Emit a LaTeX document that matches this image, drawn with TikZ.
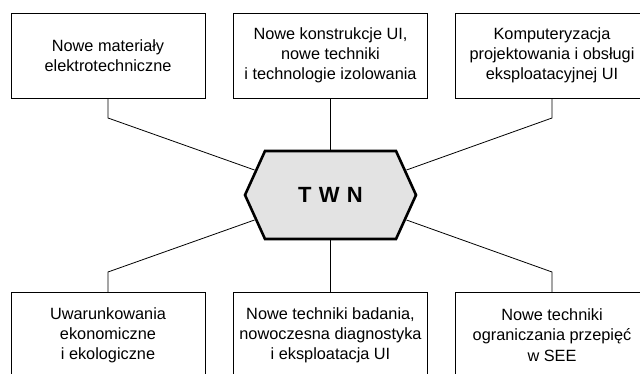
\documentclass[tikz,border=0pt]{standalone}
\usepackage{fontspec}
\setmainfont{Liberation Sans}
\begin{document}
\begin{tikzpicture}[x=1pt,y=-1pt,
  box/.style={draw,line width=0.8pt,inner sep=0pt,align=center,
    minimum width=194pt,minimum height=85pt,
    font=\fontsize{16.3}{20.2}\selectfont},
  link/.style={line width=0.8pt},
  hexa/.style={draw,line width=2.6pt,fill=black!11,line join=miter}]
\useasboundingbox (0,0) rectangle (640,374);
\clip (0,0) rectangle (640,374);
% top boxes
\node[box] (b1) at (108,55.5) {Nowe materiały\\elektrotechniczne};
\node[box] (b2) at (330.5,55.5) {Nowe konstrukcje UI,\\nowe techniki\\i technologie izolowania};
\node[box] (b3) at (552,55.5) {Komputeryzacja\\projektowania i obsługi\\eksploatacyjnej UI};
% bottom boxes
\node[box] (b4) at (108,335) {Uwarunkowania\\ekonomiczne\\i ekologiczne};
\node[box] (b5) at (330.5,335) {Nowe techniki badania,\\nowoczesna diagnostyka\\i eksploatacja UI};
\node[box] (b6) at (552,335) {Nowe techniki\\ograniczania przepięć\\w SEE};
% hexagon
\draw[hexa] (245,195) -- (265,151) -- (396,151) -- (416,195) -- (396,239) -- (265,239) -- cycle;
\node[font=\fontsize{22}{24}\bfseries\selectfont] (twn) at (330.5,195) {T\,\,W\,\,N};
% attachment points
\coordinate (h1) at (254.5,170);
\coordinate (h3) at (406.5,170);
\coordinate (h4) at (254.5,220);
\coordinate (h6) at (406.5,220);
\coordinate (h2) at (330.5,151);
\coordinate (h5) at (330.5,239);
\coordinate (k1) at (108,118);
\coordinate (k3) at (552,118);
\coordinate (k4) at (108,272);
\coordinate (k6) at (552,272);
% connectors
\draw[link] (b1.south) -- (k1) -- (h1);
\draw[link] (b2.south) -- (h2);
\draw[link] (b3.south) -- (k3) -- (h3);
\draw[link] (b4.north) -- (k4) -- (h4);
\draw[link] (b5.north) -- (h5);
\draw[link] (b6.north) -- (k6) -- (h6);
\end{tikzpicture}
\end{document}
